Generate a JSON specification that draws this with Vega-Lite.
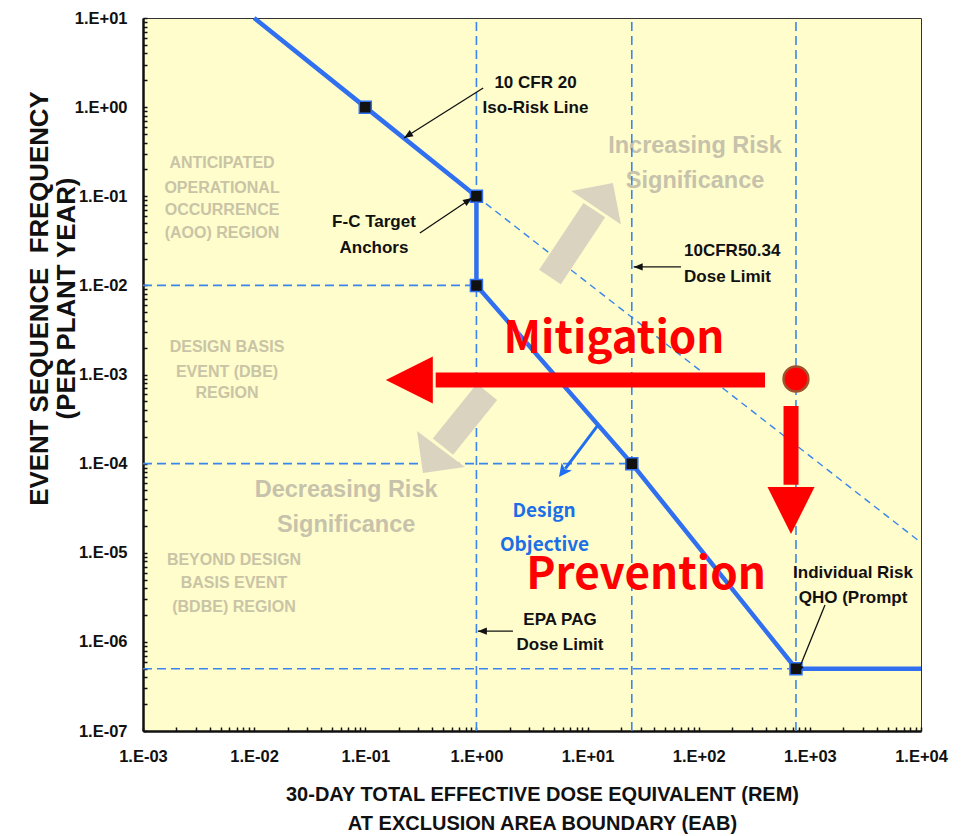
{
  "$schema": "https://vega.github.io/schema/vega-lite/v6.json",
  "width": 778,
  "height": 713,
  "autosize": "none",
  "padding": {"left": 143, "top": 18, "right": 40, "bottom": 105},
  "background": "white",
  "config": {
    "view": {"fill": "#fffdcc", "stroke": "#333333", "strokeWidth": 1},
    "text": {"font": "Liberation Sans, Arial, sans-serif", "fontWeight": "bold"}
  },
  "datasets": {
    "guides": [
      {"x": 0.001, "y": 0.01, "x2": 1, "y2": 0.01},
      {"x": 0.001, "y": 0.0001, "x2": 25, "y2": 0.0001},
      {"x": 0.001, "y": 5e-7, "x2": 750, "y2": 5e-7},
      {"x": 1, "y": 1e-7, "x2": 1, "y2": 10},
      {"x": 25, "y": 1e-7, "x2": 25, "y2": 10},
      {"x": 750, "y": 1e-7, "x2": 750, "y2": 10}
    ],
    "isoRisk": [{"x": 1, "y": 0.1, "x2": 10000, "y2": 1.3e-5}],
    "fcTarget": [
      {"o": 1, "x": 0.01, "y": 10},
      {"o": 2, "x": 0.1, "y": 1},
      {"o": 3, "x": 1, "y": 0.1},
      {"o": 4, "x": 1, "y": 0.01},
      {"o": 5, "x": 25, "y": 0.0001},
      {"o": 6, "x": 750, "y": 5e-7},
      {"o": 7, "x": 10000, "y": 5e-7}
    ],
    "anchors": [
      {"x": 0.1, "y": 1},
      {"x": 1, "y": 0.1},
      {"x": 1, "y": 0.01},
      {"x": 25, "y": 0.0001},
      {"x": 750, "y": 5e-7}
    ],
    "leaders": [
      {"id": "iso", "x": 1.15, "y": 1.64, "x2": 0.223, "y2": 0.451},
      {"id": "fc", "x": 0.31, "y": 0.0387, "x2": 0.912, "y2": 0.0956},
      {"id": "cfr", "x": 69.3, "y": 0.0161, "x2": 26, "y2": 0.0161},
      {"id": "epa", "x": 2.13, "y": 1.32e-6, "x2": 1.03, "y2": 1.32e-6},
      {"id": "qho", "x": 1368, "y": 2.59e-6, "x2": 766, "y2": 4.36e-7}
    ],
    "bigArrows": [
      {"id": "up", "x": 4.59, "y": 0.0124, "x2": 11.5, "y2": 0.07, "xt": 16.9, "yt": 0.141},
      {"id": "down", "x": 1.245, "y": 0.000637, "x2": 0.5, "y2": 0.000155, "xt": 0.33, "yt": 7.85e-5},
      {"id": "design", "x": 12.4, "y": 0.000271, "x2": 6.3, "y2": 8.8e-5, "xt": 5.53, "yt": 7.08e-5},
      {"id": "mitigation", "x": 395, "y": 0.000867, "x2": 0.43, "y2": 0.000867, "xt": 0.153, "yt": 0.000867},
      {"id": "prevention", "x": 677, "y": 0.000443, "x2": 677, "y2": 5.8e-5, "xt": 677, "yt": 1.62e-5}
    ],
    "event": [{"x": 750, "y": 0.00089}],
    "notes": [
      {"t": "10 CFR 20", "x": 3.4, "y": 1.866},
      {"t": "Iso-Risk Line", "x": 3.4, "y": 0.978},
      {"t": "F-C Target", "x": 0.1197, "y": 0.0514},
      {"t": "Anchors", "x": 0.1197, "y": 0.0262},
      {"t": "EPA PAG", "x": 5.65, "y": 1.76e-6},
      {"t": "Dose Limit", "x": 5.65, "y": 9.2e-7},
      {"t": "Individual Risk", "x": 2445, "y": 5.93e-6},
      {"t": "QHO (Prompt", "x": 2445, "y": 3.1e-6}
    ],
    "notesLeft": [
      {"t": "10CFR50.34", "x": 73.8, "y": 0.0243},
      {"t": "Dose Limit", "x": 73.8, "y": 0.01241}
    ],
    "regions": [
      {"t": "ANTICIPATED", "x": 0.00514, "y": 0.236},
      {"t": "OPERATIONAL", "x": 0.00514, "y": 0.124},
      {"t": "OCCURRENCE", "x": 0.00514, "y": 0.0702},
      {"t": "(AOO) REGION", "x": 0.00514, "y": 0.0387},
      {"t": "DESIGN BASIS", "x": 0.0057, "y": 0.00204},
      {"t": "EVENT (DBE)", "x": 0.0057, "y": 0.00107},
      {"t": "REGION", "x": 0.0057, "y": 0.000619},
      {"t": "BEYOND DESIGN", "x": 0.00659, "y": 8.3e-6},
      {"t": "BASIS EVENT", "x": 0.00659, "y": 4.58e-6},
      {"t": "(BDBE) REGION", "x": 0.00659, "y": 2.46e-6}
    ],
    "trend": [
      {"t": "Increasing Risk", "x": 92.7, "y": 0.366},
      {"t": "Significance", "x": 92.7, "y": 0.148},
      {"t": "Decreasing Risk", "x": 0.0672, "y": 5.06e-5},
      {"t": "Significance", "x": 0.0672, "y": 2.05e-5}
    ],
    "design": [
      {"t": "Design", "x": 4.06, "y": 2.94e-5},
      {"t": "Objective", "x": 4.1, "y": 1.22e-5}
    ],
    "actions": [
      {"t": "Mitigation", "x": 17.3, "y": 0.00174},
      {"t": "Prevention", "x": 33.6, "y": 3.9e-6}
    ]
  },
  "encoding": {
    "x": {
      "field": "x", "type": "quantitative",
      "scale": {"type": "log", "domain": [0.001, 10000], "nice": false},
      "axis": {
        "values": [0.001, 0.002, 0.003, 0.004, 0.005, 0.006, 0.007, 0.008, 0.009,
                   0.01, 0.02, 0.03, 0.04, 0.05, 0.06, 0.07, 0.08, 0.09,
                   0.1, 0.2, 0.3, 0.4, 0.5, 0.6, 0.7, 0.8, 0.9,
                   1, 2, 3, 4, 5, 6, 7, 8, 9,
                   10, 20, 30, 40, 50, 60, 70, 80, 90,
                   100, 200, 300, 400, 500, 600, 700, 800, 900,
                   1000, 2000, 3000, 4000, 5000, 6000, 7000, 8000, 9000, 10000],
        "labelExpr": "abs(log(datum.value)/LN10 - round(log(datum.value)/LN10)) < 0.001 ? '1.E' + (datum.value >= 1 ? '+' : '-') + '0' + abs(round(log(datum.value)/LN10)) : ''",
        "labelOverlap": false, "labelFlush": false,
        "labelFont": "Liberation Sans, Arial, sans-serif",
        "labelFontWeight": "bold", "labelFontSize": 16.5, "labelColor": "#111111",
        "labelPadding": 21, "labelBaseline": "top",
        "tickSize": -4, "tickColor": "#111111", "tickWidth": 1.5,
        "domainColor": "#111111", "domainWidth": 2.5, "grid": false,
        "title": ["30-DAY TOTAL EFFECTIVE DOSE EQUIVALENT (REM)", "AT EXCLUSION AREA BOUNDARY (EAB)"],
        "titleFont": "Liberation Sans, Arial, sans-serif",
        "titleFontWeight": "bold", "titleFontSize": 20, "titleColor": "#111111",
        "titleLineHeight": 29.5, "titleAlign": "center",
        "titleBaseline": "alphabetic", "titleX": 399, "titleY": 69
      }
    },
    "y": {
      "field": "y", "type": "quantitative",
      "scale": {"type": "log", "domain": [1e-7, 10], "nice": false},
      "axis": {
        "values": [1e-7, 2e-7, 3e-7, 4e-7, 5e-7, 6e-7, 7e-7, 8e-7, 9e-7,
                   1e-6, 2e-6, 3e-6, 4e-6, 5e-6, 6e-6, 7e-6, 8e-6, 9e-6,
                   1e-5, 2e-5, 3e-5, 4e-5, 5e-5, 6e-5, 7e-5, 8e-5, 9e-5,
                   0.0001, 0.0002, 0.0003, 0.0004, 0.0005, 0.0006, 0.0007, 0.0008, 0.0009,
                   0.001, 0.002, 0.003, 0.004, 0.005, 0.006, 0.007, 0.008, 0.009,
                   0.01, 0.02, 0.03, 0.04, 0.05, 0.06, 0.07, 0.08, 0.09,
                   0.1, 0.2, 0.3, 0.4, 0.5, 0.6, 0.7, 0.8, 0.9,
                   1, 2, 3, 4, 5, 6, 7, 8, 9, 10],
        "labelExpr": "abs(log(datum.value)/LN10 - round(log(datum.value)/LN10)) < 0.001 ? '1.E' + (datum.value >= 1 ? '+' : '-') + '0' + abs(round(log(datum.value)/LN10)) : ''",
        "labelOverlap": false, "labelFlush": false,
        "labelFont": "Liberation Sans, Arial, sans-serif",
        "labelFontWeight": "bold", "labelFontSize": 16.5, "labelColor": "#111111",
        "labelPadding": 20, "labelBaseline": "middle",
        "tickSize": -4, "tickColor": "#111111", "tickWidth": 1.5,
        "domainColor": "#111111", "domainWidth": 2.5, "grid": false,
        "title": ["EVENT SEQUENCE\u00a0 FREQUENCY", "(PER PLANT YEAR)"],
        "titleFont": "Liberation Sans, Arial, sans-serif",
        "titleFontWeight": "bold", "titleFontSize": 25.8, "titleColor": "#111111",
        "titleLineHeight": 27, "titleAngle": -90, "titleAlign": "center",
        "titleBaseline": "alphabetic", "titleX": -96, "titleY": 280
      }
    }
  },
  "layer": [
    {
      "data": {"name": "regions"},
      "mark": {"type": "text", "fontSize": 16, "color": "#c9c4a6", "align": "center", "baseline": "middle"},
      "encoding": {"text": {"field": "t"}}
    },
    {
      "data": {"name": "trend"},
      "mark": {"type": "text", "fontSize": 23.5, "color": "#c6c2ab", "align": "center", "baseline": "middle"},
      "encoding": {"text": {"field": "t"}}
    },
    {
      "data": {"name": "guides"},
      "mark": {"type": "rule", "color": "#3a86ee", "strokeWidth": 1.6, "strokeDash": [9, 5]},
      "encoding": {"x2": {"field": "x2"}, "y2": {"field": "y2"}}
    },
    {
      "data": {"name": "isoRisk"},
      "mark": {"type": "rule", "color": "#3a86ee", "strokeWidth": 1.4, "strokeDash": [7, 5]},
      "encoding": {"x2": {"field": "x2"}, "y2": {"field": "y2"}}
    },
    {
      "data": {"name": "bigArrows"},
      "transform": [{"filter": "datum.id === 'up' || datum.id === 'down'"}],
      "mark": {"type": "rule", "color": "#d9d3c0", "strokeWidth": 26, "strokeCap": "butt"},
      "encoding": {"x2": {"field": "x2"}, "y2": {"field": "y2"}}
    },
    {
      "data": {"name": "bigArrows"},
      "transform": [{"filter": "datum.id === 'up'"}],
      "mark": {"type": "point", "shape": "M0,0L1,1L-1,1Z", "size": 3600, "filled": true, "opacity": 1, "color": "#d9d3c0", "angle": 34},
      "encoding": {
        "x": {"field": "xt", "type": "quantitative"},
        "y": {"field": "yt", "type": "quantitative"}
      }
    },
    {
      "data": {"name": "bigArrows"},
      "transform": [{"filter": "datum.id === 'down'"}],
      "mark": {"type": "point", "shape": "M0,0L1,1L-1,1Z", "size": 3600, "filled": true, "opacity": 1, "color": "#d9d3c0", "angle": 217},
      "encoding": {
        "x": {"field": "xt", "type": "quantitative"},
        "y": {"field": "yt", "type": "quantitative"}
      }
    },
    {
      "data": {"name": "fcTarget"},
      "mark": {"type": "line", "color": "#2f6ff0", "strokeWidth": 4.5, "strokeJoin": "miter"},
      "encoding": {"order": {"field": "o", "type": "quantitative"}}
    },
    {
      "data": {"name": "anchors"},
      "mark": {"type": "point", "shape": "square", "size": 144, "filled": true, "opacity": 1, "fill": "#111111", "stroke": "#2f6ff0", "strokeWidth": 1.5}
    },
    {
      "data": {"name": "leaders"},
      "mark": {"type": "rule", "color": "#111111", "strokeWidth": 1.3},
      "encoding": {"x2": {"field": "x2"}, "y2": {"field": "y2"}}
    },
    {
      "data": {"name": "leaders"},
      "transform": [{"filter": "datum.id === 'iso'"}],
      "mark": {"type": "point", "shape": "M0,0L0.4,1L-0.4,1Z", "size": 324, "filled": true, "opacity": 1, "color": "#111111", "angle": 238},
      "encoding": {
        "x": {"field": "x2", "type": "quantitative"},
        "y": {"field": "y2", "type": "quantitative"}
      }
    },
    {
      "data": {"name": "leaders"},
      "transform": [{"filter": "datum.id === 'fc'"}],
      "mark": {"type": "point", "shape": "M0,0L0.4,1L-0.4,1Z", "size": 324, "filled": true, "opacity": 1, "color": "#111111", "angle": 56},
      "encoding": {
        "x": {"field": "x2", "type": "quantitative"},
        "y": {"field": "y2", "type": "quantitative"}
      }
    },
    {
      "data": {"name": "leaders"},
      "transform": [{"filter": "datum.id === 'cfr' || datum.id === 'epa'"}],
      "mark": {"type": "point", "shape": "M0,0L0.4,1L-0.4,1Z", "size": 324, "filled": true, "opacity": 1, "color": "#111111", "angle": 270},
      "encoding": {
        "x": {"field": "x2", "type": "quantitative"},
        "y": {"field": "y2", "type": "quantitative"}
      }
    },
    {
      "data": {"name": "leaders"},
      "transform": [{"filter": "datum.id === 'qho'"}],
      "mark": {"type": "point", "shape": "M0,0L0.4,1L-0.4,1Z", "size": 324, "filled": true, "opacity": 1, "color": "#111111", "angle": 202},
      "encoding": {
        "x": {"field": "x2", "type": "quantitative"},
        "y": {"field": "y2", "type": "quantitative"}
      }
    },
    {
      "data": {"name": "notes"},
      "mark": {"type": "text", "fontSize": 17, "color": "#111111", "align": "center", "baseline": "middle"},
      "encoding": {"text": {"field": "t"}}
    },
    {
      "data": {"name": "notesLeft"},
      "mark": {"type": "text", "fontSize": 17, "color": "#111111", "align": "left", "baseline": "middle"},
      "encoding": {"text": {"field": "t"}}
    },
    {
      "data": {"name": "bigArrows"},
      "transform": [{"filter": "datum.id === 'design'"}],
      "mark": {"type": "rule", "color": "#1e6ff0", "strokeWidth": 3},
      "encoding": {"x2": {"field": "x2"}, "y2": {"field": "y2"}}
    },
    {
      "data": {"name": "bigArrows"},
      "transform": [{"filter": "datum.id === 'design'"}],
      "mark": {"type": "point", "shape": "M0,0L0.5,1L0,0.75L-0.5,1Z", "size": 676, "filled": true, "opacity": 1, "color": "#1e6ff0", "angle": 217},
      "encoding": {
        "x": {"field": "xt", "type": "quantitative"},
        "y": {"field": "yt", "type": "quantitative"}
      }
    },
    {
      "data": {"name": "design"},
      "mark": {"type": "text", "font": "Noto Sans CJK KR", "fontSize": 19, "color": "#1c6fe6", "align": "center", "baseline": "middle"},
      "encoding": {"text": {"field": "t"}}
    },
    {
      "data": {"name": "bigArrows"},
      "transform": [{"filter": "datum.id === 'mitigation' || datum.id === 'prevention'"}],
      "mark": {"type": "rule", "color": "#ff0000", "strokeWidth": 15, "strokeCap": "butt"},
      "encoding": {"x2": {"field": "x2"}, "y2": {"field": "y2"}}
    },
    {
      "data": {"name": "bigArrows"},
      "transform": [{"filter": "datum.id === 'mitigation'"}],
      "mark": {"type": "point", "shape": "M0,0L0.5,1L-0.5,1Z", "size": 8836, "filled": true, "opacity": 1, "color": "#ff0000", "angle": 270},
      "encoding": {
        "x": {"field": "xt", "type": "quantitative"},
        "y": {"field": "yt", "type": "quantitative"}
      }
    },
    {
      "data": {"name": "bigArrows"},
      "transform": [{"filter": "datum.id === 'prevention'"}],
      "mark": {"type": "point", "shape": "M0,0L0.5,1L-0.5,1Z", "size": 8836, "filled": true, "opacity": 1, "color": "#ff0000", "angle": 180},
      "encoding": {
        "x": {"field": "xt", "type": "quantitative"},
        "y": {"field": "yt", "type": "quantitative"}
      }
    },
    {
      "data": {"name": "event"},
      "mark": {"type": "point", "shape": "circle", "size": 616, "filled": true, "opacity": 1, "fill": "#ff0000", "stroke": "#a0522d", "strokeWidth": 2.5}
    },
    {
      "data": {"name": "actions"},
      "mark": {"type": "text", "font": "Noto Sans CJK KR", "fontSize": 44, "color": "#ff0000", "align": "center", "baseline": "alphabetic"},
      "encoding": {"text": {"field": "t"}}
    }
  ]
}
